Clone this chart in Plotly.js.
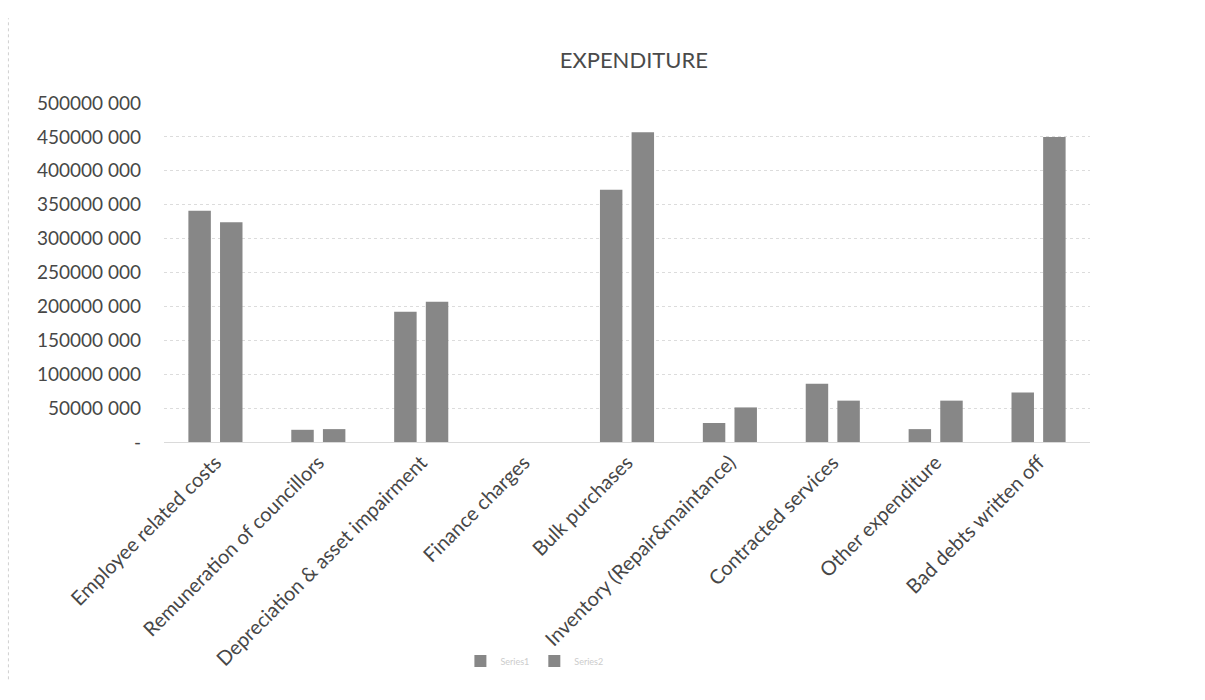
<!DOCTYPE html>
<html>
<head>
<meta charset="utf-8">
<script src="https://cdn.plot.ly/plotly-3.0.1.min.js"></script>
<style>
  html, body { margin: 0; padding: 0; background: #ffffff; }
  #chart { width: 1205px; height: 700px; }
</style>
</head>
<body>
<div id="chart"></div>
<script>
// Expenditure by category, two series
const categories = [
  "Employee related costs",
  "Remuneration of councillors",
  "Depreciation & asset impairment",
  "Finance charges",
  "Bulk purchases",
  "Inventory (Repair&maintance)",
  "Contracted services",
  "Other expenditure",
  "Bad debts written off"
];
const series1Name = "Series1";
const series2Name = "Series2";
const series1 = [341000000, 18000000, 192000000, 0, 372000000, 28000000, 86000000, 19000000, 73000000];
const series2 = [324000000, 19000000, 207000000, 0, 457000000, 51000000, 61000000, 61000000, 450000000];

const tickVals = [0, 50000000, 100000000, 150000000, 200000000, 250000000, 300000000, 350000000, 400000000, 450000000, 500000000];
const tickText = ["-", "50000 000", "100000 000", "150000 000", "200000 000", "250000 000",
                  "300000 000", "350000 000", "400000 000", "450000 000", "500000 000"];

const font = "Lato, 'Open Sans', sans-serif";

const barStyle = { color: "#878787", line: { color: "#878787", width: 0 } };

const traces = [
  { type: "bar", name: series1Name, x: categories, y: series1, marker: barStyle, hoverinfo: "x+y" },
  { type: "bar", name: series2Name, x: categories, y: series2, marker: barStyle, hoverinfo: "x+y" }
];

const layout = {
  width: 1205,
  height: 700,
  paper_bgcolor: "#ffffff",
  plot_bgcolor: "#ffffff",
  margin: { l: 164, r: 115, t: 103, b: 258 },
  barmode: "group",
  bargap: 0.385,
  bargroupgap: 0.29,
  title: {
    text: "EXPENDITURE",
    font: { family: font, size: 22, color: "#4a4a4a" },
    x: 0.526, xanchor: "center",
    y: 0.914, yanchor: "middle"
  },
  xaxis: {
    type: "category",
    tickangle: -45,
    tickfont: { family: font, size: 20, color: "#474747" },
    showgrid: false,
    showline: true,
    linecolor: "#dadada",
    ticks: "",
    automargin: false
  },
  yaxis: {
    range: [0, 500000000],
    tickmode: "array",
    tickvals: tickVals,
    ticktext: tickText,
    tickfont: { family: font, size: 19, color: "#474747" },
    showgrid: true,
    gridcolor: "#dcdcdc",
    griddash: "dot",
    zeroline: false,
    showline: false,
    ticklabelstandoff: 22,
    automargin: false
  },
  showlegend: true,
  legend: {
    orientation: "h",
    x: 0.40, xanchor: "center",
    y: -0.646, yanchor: "middle",
    font: { family: font, size: 9, color: "#cccccc" },
    itemwidth: 30,
    traceorder: "normal"
  },
  shapes: [
    { type: "line", xref: "paper", yref: "paper", x0: -0.168, x1: -0.168, y0: -0.7, y1: 1.25,
      line: { color: "#d0d0d0", width: 1, dash: "dot" } }
  ]
};

Plotly.newPlot("chart", traces, layout, { displayModeBar: false, staticPlot: true });
</script>
</body>
</html>
